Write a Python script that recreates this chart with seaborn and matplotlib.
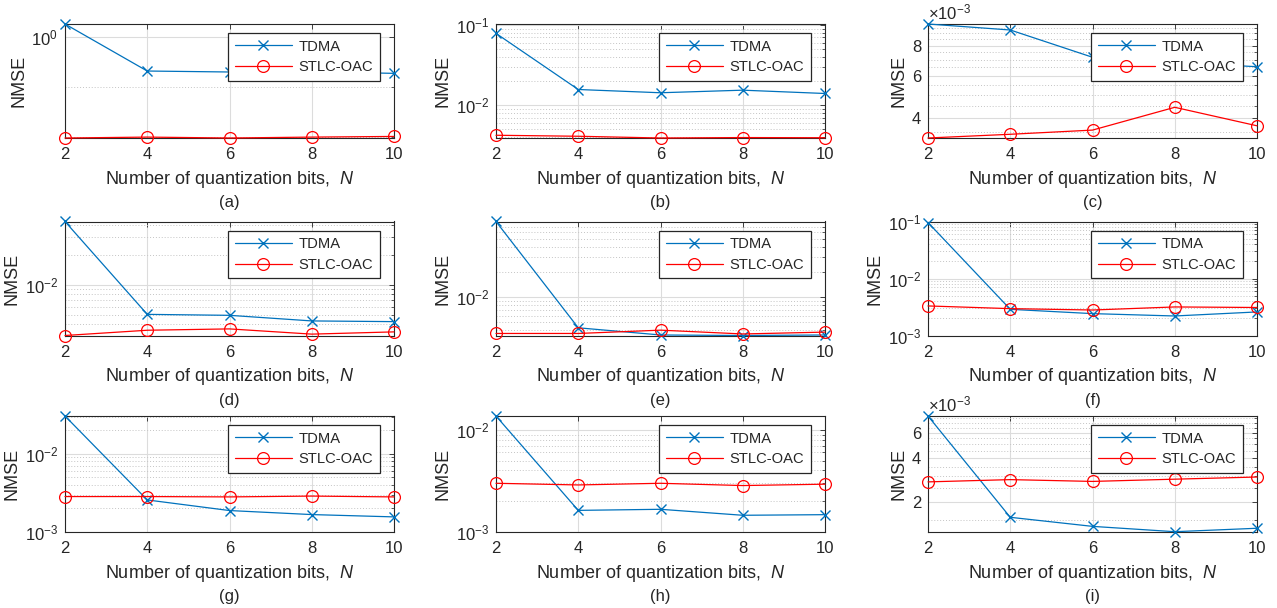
import numpy as np
import pandas as pd
import matplotlib
matplotlib.use("Agg")
import matplotlib.pyplot as plt
from matplotlib.ticker import FixedLocator, NullFormatter, LogLocator, FuncFormatter
import seaborn as sns

# ---------------- data ----------------
N_BITS = [2, 4, 6, 8, 10]
SERIES_NAMES = ["TDMA", "STLC-OAC"]
PANEL_LABELS = ["(a)", "(b)", "(c)", "(d)", "(e)", "(f)", "(g)", "(h)", "(i)"]

tdma_a = [1.8, 0.206, 0.197, 0.200, 0.185]
stlc_a = [0.0094, 0.0098, 0.0094, 0.0098, 0.0101]

tdma_b = [0.0787, 0.0157, 0.0143, 0.0154, 0.0140]
stlc_b = [0.00422, 0.00410, 0.00390, 0.00395, 0.00393]

tdma_c = [9.85e-3, 9.3e-3, 7.16e-3, 6.8e-3, 6.54e-3]
stlc_c = [3.3e-3, 3.42e-3, 3.56e-3, 4.43e-3, 3.71e-3]

tdma_d = [4.33e-2, 5.04e-3, 4.93e-3, 4.33e-3, 4.26e-3]
stlc_d = [3.09e-3, 3.49e-3, 3.6e-3, 3.19e-3, 3.36e-3]

tdma_e = [8.1e-2, 4.27e-3, 3.5e-3, 3.45e-3, 3.5e-3]
stlc_e = [3.65e-3, 3.65e-3, 4.0e-3, 3.6e-3, 3.79e-3]

tdma_f = [9.6e-2, 2.88e-3, 2.42e-3, 2.2e-3, 2.59e-3]
stlc_f = [3.3e-3, 2.96e-3, 2.8e-3, 3.17e-3, 3.1e-3]

tdma_g = [3.07e-2, 2.56e-3, 1.87e-3, 1.66e-3, 1.55e-3]
stlc_g = [2.83e-3, 2.83e-3, 2.8e-3, 2.87e-3, 2.8e-3]

tdma_h = [1.37e-2, 1.62e-3, 1.66e-3, 1.45e-3, 1.47e-3]
stlc_h = [2.99e-3, 2.88e-3, 2.99e-3, 2.84e-3, 2.93e-3]

tdma_i = [7.8e-3, 1.57e-3, 1.36e-3, 1.25e-3, 1.32e-3]
stlc_i = [2.75e-3, 2.85e-3, 2.77e-3, 2.87e-3, 2.97e-3]

# y-axis settings per panel: (ylim, major ticks, minor ticks or "log", label format)
half_steps = list(np.arange(1.0, 10.01, 0.5) * 1e-3)
AXIS_CFG = [
    ((0.0094, 1.8), [1.0], [0.1, 0.01], "sci"),
    ((0.0039, 0.103), [0.01, 0.1], "log", "sci"),
    ((3.3e-3, 9.85e-3), [4e-3, 6e-3, 8e-3], half_steps, "e-3"),
    ((3.09e-3, 4.33e-2), [0.01], "log", "sci"),
    ((3.45e-3, 8.1e-2), [0.01], "log", "sci"),
    ((1e-3, 1e-1), [1e-3, 1e-2, 1e-1], "log", "sci"),
    ((1e-3, 3.07e-2), [1e-3, 1e-2], "log", "sci"),
    ((1e-3, 1.37e-2), [1e-3, 1e-2], "log", "sci"),
    ((1.25e-3, 7.8e-3), [2e-3, 4e-3, 6e-3], half_steps, "e-3"),
]
DATA = [(tdma_a, stlc_a), (tdma_b, stlc_b), (tdma_c, stlc_c),
        (tdma_d, stlc_d), (tdma_e, stlc_e), (tdma_f, stlc_f),
        (tdma_g, stlc_g), (tdma_h, stlc_h), (tdma_i, stlc_i)]

# ---------------- style ----------------
sns.set_theme(style="white")
plt.rcParams.update({
    "font.family": ["Liberation Sans", "DejaVu Sans"],
    "mathtext.fontset": "custom",
    "mathtext.rm": "Liberation Sans",
    "mathtext.it": "Liberation Sans:italic",
    "mathtext.bf": "Liberation Sans:bold",
    "axes.edgecolor": "#262626",
    "text.color": "#262626",
    "axes.labelcolor": "#262626",
})

TDMA_COLOR = "#0072BD"
STLC_COLOR = "#FF0000"
AX_COLOR = "#262626"
TICK_FS = 12
LABEL_FS = 13
LEG_FS = 10.6

W, H = 1277, 608
fig = plt.figure(figsize=(W / 100, H / 100), dpi=100)

col_left = [65, 496, 928]
col_w = 329
row_top = [24, 221.5, 416]
row_bot = [138, 335.5, 531.7]


def sci_fmt(v, p):
    return r"$\mathdefault{10^{%d}}$" % int(round(np.log10(v)))


def e3_fmt(v, p):
    return "%g" % round(v * 1e3, 6)


for k in range(9):
    r, c = divmod(k, 3)
    l = col_left[c] / W
    b = 1 - row_bot[r] / H
    h = (row_bot[r] - row_top[r]) / H
    ax = fig.add_axes([l, b, col_w / W, h])
    tdma, stlc = DATA[k]
    ylim, major, minor, fmt = AXIS_CFG[k]

    df_t = pd.DataFrame({"N": N_BITS, "NMSE": tdma})
    df_s = pd.DataFrame({"N": N_BITS, "NMSE": stlc})
    sns.lineplot(data=df_t, x="N", y="NMSE", ax=ax, color=TDMA_COLOR,
                 marker="x", markersize=7.5, markeredgewidth=1.0,
                 markeredgecolor=TDMA_COLOR, lw=0.9,
                 label=SERIES_NAMES[0], clip_on=False, zorder=3)
    sns.lineplot(data=df_s, x="N", y="NMSE", ax=ax, color=STLC_COLOR,
                 marker="o", markersize=8.5, markerfacecolor="none",
                 markeredgecolor=STLC_COLOR, markeredgewidth=0.9, lw=0.9,
                 label=SERIES_NAMES[1], clip_on=False, zorder=3)

    ax.set_yscale("log")
    ax.set_xlim(2, 10)
    ax.set_ylim(*ylim)
    ax.xaxis.set_major_locator(FixedLocator(N_BITS))
    ax.xaxis.set_minor_locator(FixedLocator([]))
    ax.yaxis.set_major_locator(FixedLocator(major))
    if minor == "log":
        ax.yaxis.set_minor_locator(LogLocator(base=10, subs=np.arange(2, 10), numticks=100))
    else:
        ax.yaxis.set_minor_locator(FixedLocator([m for m in minor if all(abs(m - M) > 1e-9 for M in major)]))
    ax.yaxis.set_minor_formatter(NullFormatter())
    ax.yaxis.set_major_formatter(FuncFormatter(sci_fmt if fmt == "sci" else e3_fmt))

    ax.grid(True, which="major", color="#dcdcdc", lw=0.8, ls="-", zorder=0)
    ax.grid(True, which="minor", axis="y", color="#c4c4c4", lw=0.7, ls=(0, (1, 2)), zorder=0)
    ax.set_axisbelow(True)

    ax.tick_params(which="both", direction="in", top=True, right=True,
                   colors=AX_COLOR, labelsize=TICK_FS)
    ax.tick_params(which="major", length=3.5, width=0.6, pad=5)
    ax.tick_params(axis="x", which="major", pad=6.5)
    ax.tick_params(which="minor", length=2, width=0.5)
    for s in ax.spines.values():
        s.set_color(AX_COLOR)
        s.set_linewidth(0.8)

    ax.set_xlabel(r"Number of quantization bits,  $N$", fontsize=LABEL_FS, labelpad=5)
    ax.set_ylabel("NMSE", fontsize=LABEL_FS, labelpad=3)

    if fmt == "e-3":
        ax.annotate(r"$\times\mathdefault{10^{-3}}$", xy=(0, 1), xycoords="axes fraction",
                    xytext=(0, 1), textcoords="offset points", ha="left", va="bottom",
                    fontsize=TICK_FS, color=AX_COLOR)

    ax.annotate(PANEL_LABELS[k], xy=(0.5, 0), xycoords="axes fraction",
                xytext=(0, -64.5 * 0.72), textcoords="offset points",
                ha="center", va="center", fontsize=TICK_FS, color=AX_COLOR)

    ax_w_px = col_w
    ax_h_px = row_bot[r] - row_top[r]
    leg = ax.legend(loc="upper right",
                    bbox_to_anchor=(1 - 14 / ax_w_px, 1 - 9 / ax_h_px),
                    borderaxespad=0, fontsize=LEG_FS, frameon=True, fancybox=False,
                    framealpha=1, edgecolor=AX_COLOR, handlelength=3.9,
                    handletextpad=0.45, labelspacing=0.45, borderpad=0.45)
    leg.get_frame().set_linewidth(0.9)

fig.savefig("out.png", dpi=100, facecolor="white")
